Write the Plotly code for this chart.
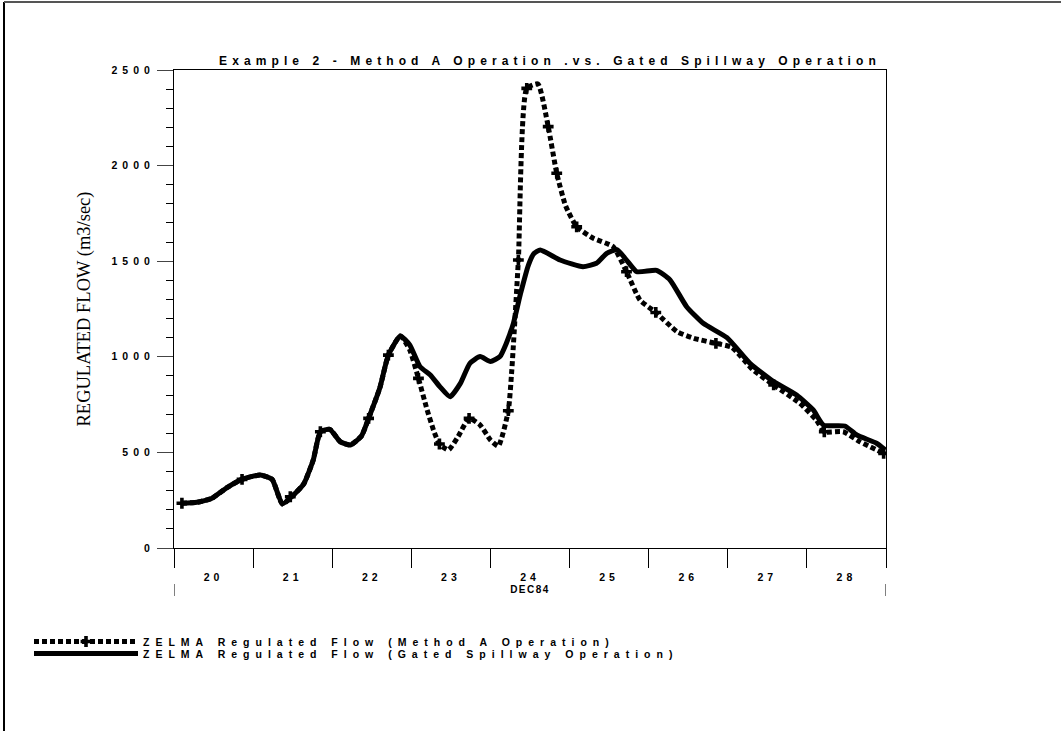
import pandas as pd
import plotly.graph_objects as go

# ---- data ----
# Gated spillway operation (solid line): day of December 1984, flow (m3/sec)
solid_day = [20.10, 20.29, 20.48, 20.67, 20.86, 21.09, 21.24, 21.37, 21.51, 21.64,
             21.76, 21.85, 21.97, 22.10, 22.23, 22.37, 22.46, 22.60, 22.71, 22.86,
             22.98, 23.11, 23.24, 23.36, 23.49, 23.62, 23.74, 23.87, 24.00, 24.12,
             24.20, 24.29, 24.38, 24.48, 24.55, 24.63, 24.88, 25.17, 25.34, 25.47,
             25.60, 25.72, 25.85, 26.10, 26.27, 26.48, 26.69, 26.99, 27.28, 27.58,
             27.87, 28.08, 28.21, 28.48, 28.63, 28.88, 28.99]
solid_flow = [234, 239, 260, 316, 359, 382, 359, 230, 277, 335,
              460, 608, 621, 556, 539, 586, 678, 835, 1009, 1109,
              1062, 948, 905, 844, 791, 861, 966, 1001, 975, 1001,
              1070, 1175, 1330, 1480, 1540, 1559, 1506, 1471, 1489, 1541,
              1560, 1506, 1445, 1452, 1402, 1262, 1175, 1100, 966, 870,
              800, 722, 643, 638, 591, 548, 513]

# Method A operation (dotted line)
dashed_day = [20.10, 20.29, 20.48, 20.67, 20.86, 21.09, 21.24, 21.37, 21.51, 21.64,
              21.76, 21.85, 21.97, 22.10, 22.23, 22.37, 22.46, 22.60, 22.71, 22.86,
              22.98, 23.09, 23.20, 23.28, 23.355, 23.47, 23.59, 23.73, 23.87, 24.00,
              24.10, 24.226, 24.27, 24.353, 24.459, 24.60, 24.73, 24.838, 24.95, 25.09,
              25.30, 25.55, 25.72, 25.89, 26.09, 26.36, 26.57, 26.85, 27.05, 27.32,
              27.58, 27.91, 28.12, 28.22, 28.46, 28.67, 28.97]
dashed_flow = [234, 239, 260, 316, 359, 382, 359, 230, 277, 335,
               460, 608, 621, 556, 539, 586, 678, 835, 1009, 1109,
               1036, 887, 722, 617, 544, 513, 582, 678, 643, 565,
               533, 718, 931, 1506, 2404, 2427, 2204, 1960, 1790, 1680,
               1620, 1576, 1445, 1297, 1232, 1131, 1097, 1070, 1050, 931,
               853, 757, 669, 608, 608, 556, 495]

# symbol positions on the Method A curve
marker_day = [20.10, 20.86, 21.47, 21.85, 22.46, 22.71, 23.09, 23.355, 23.73, 24.226,
              24.353, 24.459, 24.73, 24.838, 25.09, 25.72, 26.09, 26.85, 27.58, 28.22, 28.97]
marker_flow = [234, 359, 268, 608, 678, 1009, 887, 544, 678, 718,
               1506, 2404, 2204, 1960, 1680, 1445, 1232, 1070, 853, 608, 495]

y_tick_values = [0, 500, 1000, 1500, 2000, 2500]
x_start, x_end = "1984-12-20", "1984-12-29"

title_text = "Example 2 - Method A Operation .vs. Gated Spillway Operation"
y_title = "REGULATED FLOW (m3/sec)"
x_title = "DEC84"
name_a = "ZELMA Regulated Flow (Method A Operation)"
name_b = "ZELMA Regulated Flow (Gated Spillway Operation)"


def to_time(days):
    return pd.Timestamp("1984-12-01") + pd.to_timedelta([d - 1 for d in days], unit="D")


def spaced(text, px):
    return f"<span style='letter-spacing:{px}px'>{text}</span>"


DOT = "5px,3px"
LW = 5

fig = go.Figure()
fig.add_trace(go.Scatter(x=to_time(dashed_day), y=dashed_flow, mode="lines",
                         line=dict(color="black", width=LW, dash=DOT, shape="spline", smoothing=0.5),
                         showlegend=False, hoverinfo="skip"))
fig.add_trace(go.Scatter(x=to_time(solid_day), y=solid_flow, mode="lines",
                         line=dict(color="black", width=LW, shape="spline", smoothing=0.5),
                         showlegend=False, hoverinfo="skip"))
fig.add_trace(go.Scatter(x=to_time(marker_day), y=marker_flow, mode="markers",
                         marker=dict(symbol="cross", size=9, color="black"),
                         showlegend=False, hoverinfo="skip"))
# legend entries
fig.add_trace(go.Scatter(x=[None], y=[None], mode="lines+markers", name=spaced(name_a, 6.0),
                         line=dict(color="black", width=LW, dash=DOT),
                         marker=dict(symbol="cross", size=9, color="black"), legend="legend"))
fig.add_trace(go.Scatter(x=[None], y=[None], mode="lines", name=spaced(name_b, 6.0),
                         line=dict(color="black", width=LW), legend="legend2"))

L, R, T, B = 174, 175, 70, 183
W, H = 1061, 731
pw, ph = W - L - R, H - T - B


def px_x(px):
    return (px - L) / pw


def px_y(py):
    return (H - B - py) / ph


legend_common = dict(xanchor="left", yanchor="top", bgcolor="rgba(0,0,0,0)",
                     itemwidth=104, tracegroupgap=0,
                     font=dict(size=10.5, weight="bold", family="Liberation Sans"))

fig.update_layout(
    width=W, height=H,
    margin=dict(l=L, r=R, t=T, b=B),
    paper_bgcolor="white", plot_bgcolor="white",
    font=dict(family="Liberation Sans", color="black"),
    title=dict(text=spaced(title_text, 5.1), x=px_x(550), xref="paper", xanchor="center",
               y=1 - 61 / H, yref="container", yanchor="middle",
               font=dict(size=12, weight="bold", family="Liberation Sans")),
    showlegend=True,
    legend=dict(x=px_x(29), y=px_y(627), **legend_common),
    legend2=dict(x=px_x(29), y=px_y(639), **legend_common),
    xaxis=dict(type="date", range=[x_start, x_end], tick0=x_start, dtick=86400000,
               tickformat=spaced("%d", 4), ticklabelmode="period",
               ticks="outside", ticklen=19, tickcolor="black", tickwidth=1,
               showline=True, linecolor="black", linewidth=1, mirror=True,
               showgrid=False, zeroline=False,
               tickfont=dict(size=10.5, weight="bold"),
               title=dict(text=spaced(x_title, 1.5), standoff=4,
                          font=dict(size=10, weight="bold"))),
    yaxis=dict(range=[0, 2500], tickmode="array", tickvals=y_tick_values,
               ticktext=[spaced(str(v), 5) for v in y_tick_values],
               ticks="outside", ticklen=16, tickcolor="#444", tickwidth=1,
               minor=dict(tickmode="linear", tick0=0, dtick=100, ticks="outside",
                          ticklen=7, tickcolor="black"),
               showline=True, linecolor="black", linewidth=1, mirror=True,
               showgrid=False, zeroline=False,
               tickfont=dict(size=10.5, weight="bold"),
               title=dict(text=y_title, standoff=16,
                          font=dict(size=18.5, family="Liberation Serif"))),
    shapes=[
        # frame lines of the page
        dict(type="line", xref="paper", yref="paper", x0=px_x(4), x1=px_x(4),
             y0=px_y(2), y1=px_y(731), line=dict(color="black", width=2)),
        dict(type="line", xref="paper", yref="paper", x0=px_x(4), x1=px_x(1061),
             y0=px_y(2), y1=px_y(2), line=dict(color="#555", width=2)),
        # small end ticks below the day labels
        dict(type="line", xref="x", yref="paper", x0=x_start, x1=x_start,
             y0=px_y(584), y1=px_y(596), line=dict(color="black", width=1)),
        dict(type="line", xref="x", yref="paper", x0=x_end, x1=x_end,
             y0=px_y(584), y1=px_y(596), line=dict(color="black", width=1)),
    ],
)

fig.write_html("out.html", config={"displayModeBar": False},
               post_script="document.body.style.margin='0';")
